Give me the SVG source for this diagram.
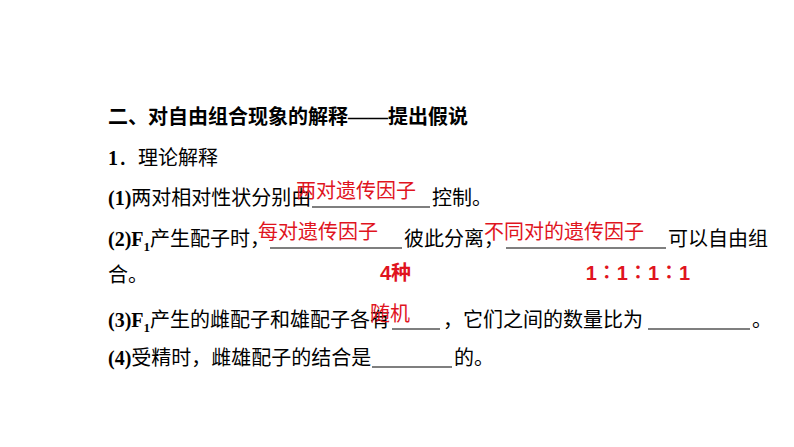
<svg xmlns="http://www.w3.org/2000/svg" width="794" height="447" viewBox="0 0 794 447">
<style>
.t{font-family:"Liberation Serif","Noto Sans CJK SC",serif;font-size:20px;fill:#000}
.b{font-weight:bold}
.r{font-family:"Liberation Sans","Noto Sans CJK SC",sans-serif;font-size:20px;fill:#e0141e}
.u{stroke:#000;stroke-width:1.2}
</style>
<rect width="794" height="447" fill="#fff"/>
<text class="t b" x="108" y="124">二、对自由组合现象的解释——提出假说</text>
<text class="t" x="108" y="165"><tspan class="b">1</tspan>．理论解释</text>
<text class="t" x="108" y="205"><tspan class="b">(1)</tspan>两对相对性状分别由</text>
<line class="u" x1="312" y1="207" x2="430" y2="207"/>
<text class="t" x="432" y="205">控制。</text>
<text class="r" x="296" y="198">两对遗传因子</text>
<text class="t" x="108" y="246"><tspan class="b">(2)F</tspan><tspan class="b" font-size="13" dy="5">1</tspan><tspan dy="-5">产生配子时，</tspan></text>
<line class="u" x1="270" y1="248" x2="402" y2="248"/>
<text class="t" x="404" y="246">彼此分离，</text>
<line class="u" x1="506" y1="248" x2="666" y2="248"/>
<text class="t" x="668" y="246">可以自由组</text>
<text class="t" x="108" y="282">合。</text>
<text class="r" x="258" y="239">每对遗传因子</text>
<text class="r" x="484" y="239">不同对的遗传因子</text>
<text class="r b" x="380" y="280">4种</text>
<text class="r b" x="638" y="280" text-anchor="middle">1∶1∶1∶1</text>
<text class="t" x="108" y="327"><tspan class="b">(3)F</tspan><tspan class="b" font-size="13" dy="5">1</tspan><tspan dy="-5">产生的雌配子和雄配子各有</tspan></text>
<line class="u" x1="392" y1="329" x2="440" y2="329"/>
<text class="t" x="443" y="327">，它们之间的数量比为</text>
<line class="u" x1="648" y1="329" x2="750" y2="329"/>
<text class="t" x="752" y="327">。</text>
<text class="r" x="370" y="321">随机</text>
<text class="t" x="108" y="365"><tspan class="b">(4)</tspan>受精时，雌雄配子的结合是</text>
<line class="u" x1="372" y1="367" x2="452" y2="367"/>
<text class="t" x="454" y="365">的。</text>
</svg>
